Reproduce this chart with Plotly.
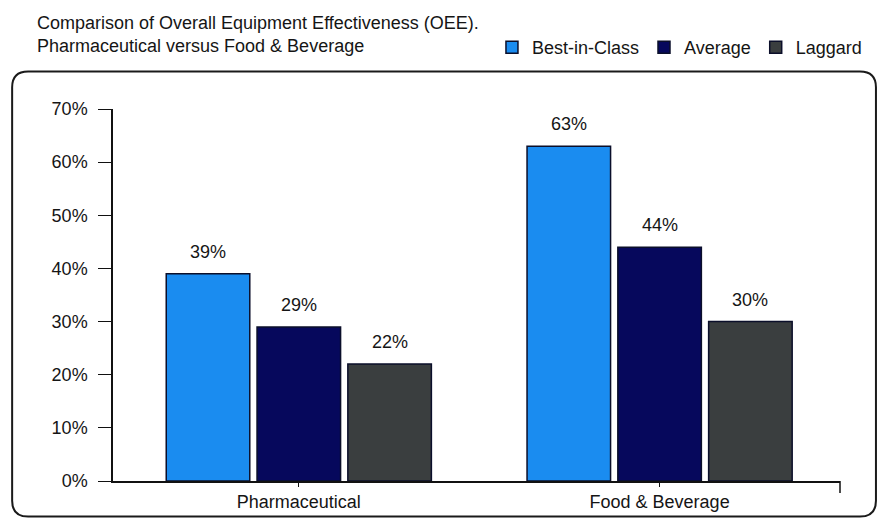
import plotly.graph_objects as go

# OEE comparison data (percent)
categories = ["Pharmaceutical", "Food & Beverage"]
series_names = ["Best-in-Class", "Average", "Laggard"]
best_in_class = [39, 63]
average = [29, 44]
laggard = [22, 30]
y_ticks = [0, 10, 20, 30, 40, 50, 60, 70]
y_tick_labels = [f"{v}%" for v in y_ticks]

series_values = [best_in_class, average, laggard]
colors = ["#1A8CF0", "#06085C", "#3A3E3F"]

W, H = 879, 524
ML, MR, MT, MB = 113, 38, 109, 39
BARGAP = 0.245
BARGROUPGAP = 0.08
FONT = "Liberation Sans, Arial, sans-serif"
TXT = "#151515"

fig = go.Figure()
for name, vals, col in zip(series_names, series_values, colors):
    fig.add_trace(go.Bar(
        name=name,
        x=list(range(len(categories))),
        y=vals,
        marker=dict(color=col, line=dict(color="#0B0F2A", width=1.5)),
        hoverinfo="skip",
    ))

# value labels above each bar
n = len(series_names)
slot = (1 - BARGAP) / n
for k, vals in enumerate(series_values):
    for i, v in enumerate(vals):
        fig.add_annotation(
            x=i + (k - (n - 1) / 2) * slot, y=v, xref="x", yref="y",
            text=f"{v}%", showarrow=False, yanchor="middle", yshift=22,
            font=dict(family=FONT, size=18, color=TXT),
        )

pw = W - ML - MR
ph = H - MT - MB


def px_x(p):
    return (p - ML) / pw


def px_y(p):
    return (H - MB - p) / ph


# rounded outer frame drawn in figure pixels
x0, x1, y0, y1, r = 12, 877, 71, 521, 16
path = (
    f"M {px_x(x0 + r)},{px_y(y0)} L {px_x(x1 - r)},{px_y(y0)} "
    f"Q {px_x(x1)},{px_y(y0)} {px_x(x1)},{px_y(y0 + r)} "
    f"L {px_x(x1)},{px_y(y1 - r)} Q {px_x(x1)},{px_y(y1)} {px_x(x1 - r)},{px_y(y1)} "
    f"L {px_x(x0 + r)},{px_y(y1)} Q {px_x(x0)},{px_y(y1)} {px_x(x0)},{px_y(y1 - r)} "
    f"L {px_x(x0)},{px_y(y0 + r)} Q {px_x(x0)},{px_y(y0)} {px_x(x0 + r)},{px_y(y0)} Z"
)
fig.add_shape(type="path", path=path, xref="paper", yref="paper",
              line=dict(color="#1a1a1a", width=2), layer="below")

# end tick at right of category axis
fig.add_shape(type="line", xref="paper", yref="paper", x0=1, x1=1,
              ysizemode="pixel", yanchor=0, y0=0, y1=-12,
              line=dict(color="#111", width=1.5))

fig.update_layout(
    width=W, height=H,
    margin=dict(l=ML, r=MR, t=MT, b=MB, pad=0),
    paper_bgcolor="white", plot_bgcolor="white",
    barmode="group", bargap=BARGAP, bargroupgap=BARGROUPGAP,
    font=dict(family=FONT, size=18, color=TXT),
    title=dict(
        text="Comparison of Overall Equipment Effectiveness (OEE).<br>"
             "Pharmaceutical versus Food & Beverage",
        xref="container", yref="container", x=37 / W, xanchor="left",
        y=1 - 29 / H, yanchor="top",
        font=dict(family=FONT, size=18, color=TXT),
    ),
    legend=dict(
        orientation="h", xanchor="right", x=px_x(868), yanchor="middle",
        y=px_y(47), font=dict(family=FONT, size=18, color=TXT),
        bgcolor="rgba(0,0,0,0)", itemclick=False, traceorder="normal",
    ),
    showlegend=True,
)

fig.update_xaxes(
    range=[-0.515, 1.5], tickmode="array", tickvals=list(range(len(categories))),
    ticktext=categories, tickson="boundaries", ticks="outside", ticklen=4,
    tickcolor="#111", showline=True, linecolor="#111", linewidth=1.5,
    showgrid=False, zeroline=False, tickfont=dict(family=FONT, size=18, color=TXT),
)
fig.update_yaxes(
    range=[0, 70], tickmode="array", tickvals=y_ticks, ticktext=y_tick_labels,
    ticks="outside", ticklen=13,
    tickcolor="#111", showline=True, linecolor="#111", linewidth=1.5,
    showgrid=False, zeroline=False, ticklabelstandoff=7,
    tickfont=dict(family=FONT, size=18, color=TXT),
)

fig.write_html("out.html")
